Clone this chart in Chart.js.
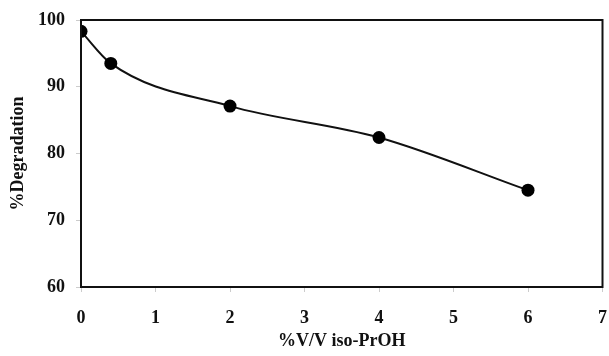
<!DOCTYPE html>
<html>
<head>
<meta charset="utf-8">
<script src="https://cdn.jsdelivr.net/npm/chart.js@4/dist/chart.umd.min.js"></script>
<style>
  html, body { margin: 0; padding: 0; background: #fff; }
  #wrap { width: 609px; height: 356px; }
</style>
</head>
<body>
<div id="wrap"><canvas id="chart"></canvas></div>
<script>
// values
var isoPrOH = [0, 0.4, 2, 4, 6];
var degradation = [98.3, 93.5, 87.1, 82.4, 74.5];
var xTicks = [0, 1, 2, 3, 4, 5, 6, 7];
var yTicks = [60, 70, 80, 90, 100];

var font = 'Liberation Serif, Times New Roman, serif';

// draws the closed box around the plot area
var frame = {
  id: 'frame',
  afterDraw: function(chart) {
    var a = chart.chartArea, ctx = chart.ctx;
    ctx.save();
    ctx.strokeStyle = '#111';
    ctx.lineWidth = 2;
    ctx.strokeRect(a.left, a.top, a.right - a.left, a.bottom - a.top);
    ctx.restore();
  }
};

window.addEventListener('load', function() {
  var points = isoPrOH.map(function(x, i) { return { x: x, y: degradation[i] }; });
  new Chart(document.getElementById('chart').getContext('2d'), {
    type: 'scatter',
    data: {
      datasets: [{
        data: points,
        showLine: true,
        borderColor: '#111',
        borderWidth: 2,
        backgroundColor: '#000',
        pointRadius: 6.5,
        pointBorderWidth: 0,
        cubicInterpolationMode: 'monotone'
      }]
    },
    options: {
      responsive: true,
      maintainAspectRatio: false,
      animation: false,
      layout: { padding: { left: 0, right: 4, top: 20, bottom: 0 } },
      plugins: { legend: { display: false }, tooltip: { enabled: false } },
      scales: {
        x: {
          type: 'linear', min: 0, max: 7,
          afterBuildTicks: function(s) { s.ticks = xTicks.map(function(v) { return { value: v }; }); },
          afterFit: function(s) { s.height = 69; s.paddingRight = 0; s.paddingLeft = 0; },
          grid: { drawOnChartArea: false, tickLength: 5, color: '#ccc' },
          border: { display: false },
          ticks: { color: '#111', padding: 16, font: { family: font, size: 18, weight: 'bold' } },
          title: { display: true, text: '%V/V iso-PrOH', color: '#111', padding: { top: 0, bottom: 4 },
                   font: { family: font, size: 18, weight: 'bold' } }
        },
        y: {
          min: 60, max: 100,
          afterBuildTicks: function(s) { s.ticks = yTicks.map(function(v) { return { value: v }; }); },
          afterFit: function(s) { s.width = 81; s.paddingTop = 0; },
          grid: { drawOnChartArea: false, tickLength: 5, color: '#ccc' },
          border: { display: false },
          ticks: { color: '#111', padding: 11, font: { family: font, size: 18, weight: 'bold' } },
          title: { display: true, text: '%Degradation', color: '#111', padding: { top: 8, bottom: 0 },
                   font: { family: font, size: 18, weight: 'bold' } }
        }
      }
    },
    plugins: [frame]
  });
});
</script>
</body>
</html>
